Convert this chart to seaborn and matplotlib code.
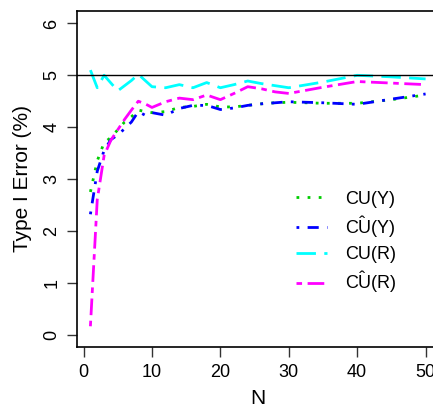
import numpy as np
import pandas as pd
import matplotlib
matplotlib.use('Agg')
import matplotlib.pyplot as plt
import seaborn as sns

# sample sizes
N = [1, 2, 3, 4, 5, 6, 7, 8, 9, 10, 12, 14, 16, 18, 20, 22, 24, 26, 28, 30, 35, 40, 45, 50]

# type I error (%)
cu_y = [2.75, 3.35, 3.70, 3.80, 3.95, 4.10, 4.20, 4.33, 4.30, 4.28, 4.30, 4.38,
        4.40, 4.44, 4.39, 4.39, 4.42, 4.45, 4.47, 4.48, 4.46, 4.46, 4.53, 4.62]
cuhat_y = [2.32, 3.15, 3.55, 3.76, 3.85, 3.97, 4.10, 4.30, 4.23, 4.28, 4.23, 4.36,
           4.42, 4.42, 4.34, 4.37, 4.42, 4.45, 4.47, 4.49, 4.47, 4.44, 4.54, 4.64]
cu_r = [5.10, 4.76, 5.00, 4.85, 4.70, 4.80, 4.90, 5.02, 4.90, 4.78, 4.76, 4.82,
        4.76, 4.86, 4.76, 4.82, 4.89, 4.84, 4.80, 4.76, 4.87, 5.00, 4.97, 4.93]
cuhat_r = [0.16, 2.60, 3.45, 3.75, 3.95, 4.15, 4.33, 4.50, 4.45, 4.38, 4.49, 4.56,
           4.53, 4.62, 4.53, 4.65, 4.78, 4.74, 4.68, 4.65, 4.77, 4.88, 4.85, 4.82]

labels = ['CU(Y)', r'$\hat{\mathrm{CU}}$(Y)', 'CU(R)', r'$\hat{\mathrm{CU}}$(R)']
colors = ['#00CD00', '#0000FF', '#00FFFF', '#FF00FF']
styles = [(0, (1, 3)), (0, (1, 3, 4, 3)), (0, (7, 3)), (0, (2, 2, 6, 2))]

sns.set_style('ticks')
plt.rcParams['font.family'] = ['Liberation Sans', 'DejaVu Sans']
plt.rcParams['mathtext.fontset'] = 'custom'
plt.rcParams['mathtext.rm'] = 'Liberation Sans'
plt.rcParams['mathtext.it'] = 'Liberation Sans:italic'
plt.rcParams['text.color'] = 'black'
plt.rcParams['axes.labelcolor'] = 'black'

fig = plt.figure(figsize=(4.33, 4.08), dpi=100)
ax = fig.add_axes([77 / 433, 61 / 408, 362 / 433, 336 / 408])

for vals, lab, col, ls in zip([cu_y, cuhat_y, cu_r, cuhat_r], labels, colors, styles):
    df = pd.DataFrame({'N': N, 'err': vals})
    sns.lineplot(data=df, x='N', y='err', color=col, lw=2, linestyle=ls,
                 label=lab, ax=ax, clip_on=False)

ax.axhline(5, color='black', lw=1)

ax.set_xlim(-0.96, 51.96)
ax.set_ylim(-0.24, 6.24)
ax.set_xticks([0, 10, 20, 30, 40, 50])
ax.set_yticks([0, 1, 2, 3, 4, 5, 6])
ax.tick_params(axis='both', labelsize=13, length=7, width=1, color='#333333',
               labelcolor='black', pad=5, direction='out')
for t in ax.get_yticklabels():
    t.set_rotation(90)
    t.set_va('center')

for s in ax.spines.values():
    s.set_color('black')
    s.set_linewidth(1.2)

ax.set_xlabel('N', fontsize=15, labelpad=6)
ax.set_ylabel('Type I Error (%)', fontsize=15, labelpad=8)

ax.legend(loc='center left', bbox_to_anchor=(0.605, 0.31), frameon=False,
          fontsize=13, handlelength=1.7, handletextpad=1.0, labelspacing=0.35,
          borderpad=0, borderaxespad=0)

fig.savefig('out.png', dpi=100)
